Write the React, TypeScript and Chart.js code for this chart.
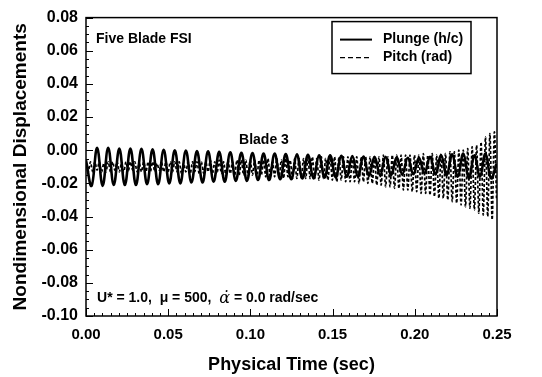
import React, { useEffect, useRef } from "react";
import { Chart, registerables } from "chart.js";

Chart.register(...registerables);

// ---- data ----
const X_TICKS = [0, 0.05, 0.1, 0.15, 0.2, 0.25];
const Y_TICKS = [-0.1, -0.08, -0.06, -0.04, -0.02, 0, 0.02, 0.04, 0.06, 0.08];

// plunge samples at its extrema (half-period spacing)
const PLUNGE_STEP = 0.003375;
const plungeValues = [
  -0.006, -0.0215, 0.0015, -0.0215, 0.0015, -0.021, 0.001, -0.021, 0.001, -0.021,
  0.0008, -0.0205, 0.0005, -0.0205, 0.0003, -0.02, 0.0, -0.02, -0.0002, -0.0195,
  -0.0005, -0.0195, -0.0007, -0.019, -0.001, -0.019, -0.0012, -0.0185, -0.0015, -0.0185,
  -0.0017, -0.018, -0.002, -0.018, -0.002, -0.0175, -0.0023, -0.0175, -0.0025, -0.017,
  -0.0027, -0.017, -0.003, -0.0165, -0.003, -0.0165, -0.0033, -0.016, -0.0035, -0.016,
  -0.0038, -0.0155, -0.004, -0.015, -0.004, -0.015, -0.0043, -0.0145, -0.0045, -0.0145,
  -0.0045, -0.014, -0.004, -0.0145, -0.003, -0.015, -0.0025, -0.016, -0.002, -0.017,
  -0.003, -0.016, -0.002, -0.017, -0.008,
];

// pitch samples at its extrema (half-period spacing)
const PITCH_STEP = 0.00135;
const pitchValues = [
  -0.009, -0.013, -0.007, -0.013, -0.007, -0.012, -0.007, -0.013, -0.008, -0.013,
  -0.007, -0.013, -0.007, -0.012, -0.007, -0.013, -0.008, -0.013, -0.007, -0.013,
  -0.007, -0.012, -0.007, -0.013, -0.008, -0.013, -0.007, -0.013, -0.007, -0.013,
  -0.007, -0.013, -0.008, -0.012, -0.007, -0.013, -0.007, -0.013, -0.007, -0.013,
  -0.007, -0.013, -0.007, -0.014, -0.008, -0.013, -0.007, -0.014, -0.007, -0.013,
  -0.007, -0.014, -0.007, -0.014, -0.007, -0.013, -0.006, -0.014, -0.007, -0.014,
  -0.006, -0.014, -0.007, -0.015, -0.006, -0.014, -0.007, -0.015, -0.006, -0.015,
  -0.006, -0.015, -0.006, -0.015, -0.006, -0.015, -0.006, -0.016, -0.006, -0.015,
  -0.006, -0.016, -0.005, -0.016, -0.006, -0.016, -0.005, -0.016, -0.006, -0.017,
  -0.005, -0.016, -0.006, -0.017, -0.005, -0.017, -0.005, -0.017, -0.005, -0.017,
  -0.005, -0.017, -0.004, -0.017, -0.005, -0.018, -0.004, -0.017, -0.005, -0.018,
  -0.004, -0.018, -0.004, -0.019, -0.004, -0.018, -0.004, -0.019, -0.004, -0.019,
  -0.004, -0.019, -0.004, -0.02, -0.004, -0.019, -0.004, -0.02, -0.004, -0.02,
  -0.004, -0.021, -0.004, -0.021, -0.003, -0.022, -0.004, -0.022, -0.003, -0.023,
  -0.003, -0.023, -0.003, -0.024, -0.003, -0.024, -0.003, -0.025, -0.003, -0.025,
  -0.003, -0.026, -0.002, -0.026, -0.003, -0.027, -0.002, -0.028, -0.003, -0.029,
  -0.002, -0.029, -0.002, -0.03, -0.001, -0.031, -0.001, -0.032, 0.0, -0.033,
  0.0, -0.034, 0.001, -0.035, 0.002, -0.036, 0.003, -0.038, 0.005, -0.039,
  0.008, -0.04, 0.01, -0.042, 0.011, -0.03,
];

const SERIES_LABELS = ["Plunge (h/c)", "Pitch (rad)"];

const FONT = "'Liberation Sans', Arial, sans-serif";

const plungePoints = plungeValues.map((v, i) => ({ x: i * PLUNGE_STEP, y: v }));
const pitchPoints = pitchValues.map((v, i) => ({ x: i * PITCH_STEP, y: v }));

const framePlugin = {
  id: "frame",
  afterDatasetsDraw(chart: any) {
    const { ctx, chartArea: a, scales } = chart;
    const xs = scales.x;
    const ys = scales.y;
    ctx.save();
    ctx.strokeStyle = "#000";
    // minor / major ticks inward
    ctx.lineWidth = 1;
    ctx.beginPath();
    for (let i = 0; i <= 50; i++) {
      const v = i * 0.005;
      const px = Math.round(xs.getPixelForValue(v)) + 0.5;
      const major = i % 10 === 0;
      const len = major ? 7 : 3;
      ctx.moveTo(px, a.bottom);
      ctx.lineTo(px, a.bottom - len);
    }
    for (let i = 0; i <= 36; i++) {
      const v = -0.1 + i * 0.005;
      const py = Math.round(ys.getPixelForValue(v)) + 0.5;
      const major = i % 4 === 0;
      const len = major ? 7 : 3;
      ctx.moveTo(a.left, py);
      ctx.lineTo(a.left + len, py);
    }
    ctx.stroke();
    // frame
    ctx.lineWidth = 1.5;
    ctx.strokeRect(a.left, a.top, a.right - a.left, a.bottom - a.top);

    // annotations
    ctx.fillStyle = "#000";
    ctx.textBaseline = "middle";
    ctx.textAlign = "left";
    ctx.font = `bold 14px ${FONT}`;
    ctx.fillText("Five Blade FSI", xs.getPixelForValue(0.0061), ys.getPixelForValue(0.0671));
    ctx.fillText("Blade 3", xs.getPixelForValue(0.0931), ys.getPixelForValue(0.0061));

    let tx = xs.getPixelForValue(0.0067);
    const ty = ys.getPixelForValue(-0.0894);
    const p1 = "U* = 1.0,  \u03bc = 500,  ";
    ctx.fillText(p1, tx, ty);
    tx += ctx.measureText(p1).width;
    ctx.font = `italic 16px 'DejaVu Serif', serif`;
    const al = "\u03b1\u0307";
    ctx.fillText(al, tx, ty);
    tx += ctx.measureText("\u03b1").width;
    ctx.font = `bold 14px ${FONT}`;
    ctx.fillText(" = 0.0 rad/sec", tx, ty);

    // legend box
    const bx = a.right - 165;
    const by = a.top + 4;
    const bw = 139;
    const bh = 52;
    ctx.fillStyle = "#fff";
    ctx.fillRect(bx, by, bw, bh);
    ctx.lineWidth = 1.5;
    ctx.strokeRect(bx, by, bw, bh);
    ctx.fillStyle = "#000";
    ctx.font = `bold 14px ${FONT}`;
    const rows = [by + 18, by + 36];
    chart.data.datasets.forEach((ds: any, i: number) => {
      ctx.beginPath();
      ctx.lineWidth = i === 0 ? 2 : 1.2;
      ctx.setLineDash(i === 0 ? [] : [5, 3]);
      ctx.moveTo(bx + 8, rows[i]);
      ctx.lineTo(bx + 40, rows[i]);
      ctx.stroke();
      ctx.setLineDash([]);
      ctx.fillText(ds.label, bx + 51, rows[i]);
    });
    ctx.restore();
  },
};

export default function App() {
  const ref = useRef<HTMLCanvasElement | null>(null);
  useEffect(() => {
    document.body.style.margin = "0";
    if (!ref.current) return;
    const chart = new Chart(ref.current, {
      type: "line",
      data: {
        datasets: [
          {
            label: SERIES_LABELS[0],
            data: plungePoints,
            borderColor: "#000",
            borderWidth: 2.6,
            pointRadius: 0,
            tension: 0.4,
            fill: false,
          },
          {
            label: SERIES_LABELS[1],
            data: pitchPoints,
            borderColor: "#000",
            borderWidth: 1.7,
            borderDash: [3, 2],
            pointRadius: 0,
            tension: 0.3,
            fill: false,
          },
        ],
      },
      options: {
        animation: false,
        responsive: false,
        parsing: false as any,
        layout: { padding: { left: 0, top: 9, right: 45, bottom: 0 } },
        plugins: {
          legend: { display: false },
          tooltip: { enabled: false },
        },
        scales: {
          x: {
            type: "linear",
            min: 0,
            max: 0.25,
            afterBuildTicks: (s: any) => {
              s.ticks = X_TICKS.map((v) => ({ value: v }));
            },
            afterFit: (s: any) => {
              s.height = 61;
            },
            grid: { display: false, drawTicks: false },
            border: { display: false },
            ticks: {
              padding: 10,
              color: "#000",
              font: { family: FONT, size: 15, weight: "bold" },
              callback: (v: any) => Number(v).toFixed(2),
              maxRotation: 0,
            },
            title: {
              display: true,
              text: "Physical Time (sec)",
              color: "#000",
              font: { family: FONT, size: 18, weight: "bold" },
              padding: { top: 0, bottom: 1 },
            },
          },
          y: {
            type: "linear",
            min: -0.1,
            max: 0.08,
            afterBuildTicks: (s: any) => {
              s.ticks = Y_TICKS.map((v) => ({ value: v }));
            },
            afterFit: (s: any) => {
              s.width = 86;
            },
            grid: { display: false, drawTicks: false },
            border: { display: false },
            ticks: {
              padding: 8,
              color: "#000",
              font: { family: FONT, size: 16, weight: "bold" },
              callback: (v: any) => Number(v).toFixed(2),
            },
            title: {
              display: true,
              text: "Nondimensional Displacements",
              color: "#000",
              font: { family: FONT, size: 19, weight: "bold" },
              padding: { top: 9, bottom: 0 },
            },
          },
        },
      },
      plugins: [framePlugin],
    });
    return () => chart.destroy();
  }, []);
  return (
    <div style={{ width: 542, height: 377, position: "absolute", left: 0, top: 0, background: "#fff" }}>
      <canvas ref={ref} width={542} height={377} />
    </div>
  );
}
